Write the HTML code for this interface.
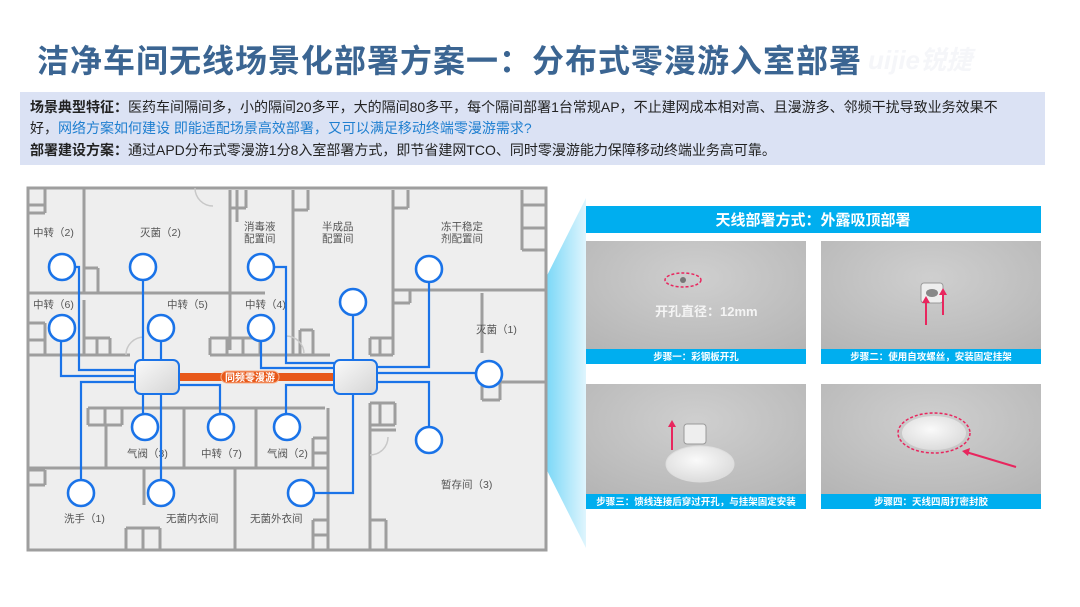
<!DOCTYPE html>
<html><head><meta charset="utf-8"><style>
html,body{margin:0;padding:0;background:#fff}
body{width:1080px;height:607px;position:relative;overflow:hidden;font-family:"Liberation Sans","Noto Sans CJK SC",sans-serif}
.t{position:absolute;left:37px;top:36px;font-size:32px;font-weight:bold;color:#3b6592;letter-spacing:1px;white-space:nowrap}
.box{position:absolute;left:20px;top:92px;width:1025px;height:73px;background:#dbe2f4}
.box p{margin:0;position:absolute;left:10px;font-size:14px;line-height:21px;color:#222;white-space:nowrap}
.bl{color:#1f7fd0}
</style></head><body>
<div class="t">洁净车间无线场景化部署方案一：分布式零漫游入室部署</div>
<div style="position:absolute;left:868px;top:40px;font-size:26px;font-weight:bold;color:#f5f6f9;font-style:italic">uijie锐捷</div>
<div class="box">
<p style="top:5px"><b>场景典型特征：</b>医药车间隔间多，小的隔间20多平，大的隔间80多平，每个隔间部署1台常规AP，不止建网成本相对高、且漫游多、邻频干扰导致业务效果不</p>
<p style="top:26px">好，<span class="bl">网络方案如何建设 即能适配场景高效部署，又可以满足移动终端零漫游需求?</span></p>
<p style="top:48px"><b>部署建设方案：</b>通过APD分布式零漫游1分8入室部署方式，即节省建网TCO、同时零漫游能力保障移动终端业务高可靠。</p>
</div>
<svg width="1080" height="607" style="position:absolute;left:0;top:0" font-family="Liberation Sans,Noto Sans CJK SC,sans-serif">
<defs>
<linearGradient id="cone" x1="0" x2="1" y1="0" y2="0"><stop offset="0" stop-color="#00b4f0"/><stop offset="1" stop-color="#dff5fd"/></linearGradient>
<linearGradient id="ap" x1="0" x2="1" y1="0" y2="1"><stop offset="0" stop-color="#fafafa"/><stop offset="1" stop-color="#d4d4d4"/></linearGradient>
<radialGradient id="ceil" cx="0.5" cy="0.3" r="0.8"><stop offset="0" stop-color="#cfcfcf"/><stop offset="1" stop-color="#b3b3b3"/></radialGradient>
<radialGradient id="dome" cx="0.45" cy="0.4" r="0.6"><stop offset="0" stop-color="#fafafa"/><stop offset="1" stop-color="#dcdcdc"/></radialGradient>
</defs>
<polygon points="498,373 586,198 586,548" fill="url(#cone)"/>
<rect x="28" y="188" width="518" height="362" fill="#eeeeee" stroke="#9e9e9e" stroke-width="3"/>
<g stroke="#9e9e9e" stroke-width="3" fill="none">
<line x1="84" y1="188" x2="84" y2="293"/><line x1="28" y1="293" x2="265" y2="293"/>
<line x1="28" y1="205" x2="45" y2="205"/><line x1="45" y1="188" x2="45" y2="213"/><line x1="28" y1="213" x2="45" y2="213"/>
<line x1="84" y1="268" x2="98" y2="268"/><line x1="98" y1="268" x2="98" y2="293"/>
<line x1="230" y1="190" x2="230" y2="350"/><line x1="237" y1="190" x2="237" y2="222"/>
<line x1="230" y1="208" x2="246" y2="208"/><line x1="246" y1="190" x2="246" y2="208"/>
<line x1="293" y1="190" x2="293" y2="355"/><line x1="293" y1="210" x2="308" y2="210"/><line x1="308" y1="190" x2="308" y2="210"/>
<line x1="393" y1="190" x2="393" y2="355"/><line x1="393" y1="208" x2="408" y2="208"/><line x1="408" y1="190" x2="408" y2="208"/>
<line x1="393" y1="290" x2="546" y2="290"/><line x1="393" y1="303" x2="410" y2="303"/><line x1="410" y1="290" x2="410" y2="303"/>
<line x1="522" y1="190" x2="522" y2="250"/><line x1="522" y1="205" x2="546" y2="205"/><line x1="522" y1="228" x2="546" y2="228"/><line x1="522" y1="250" x2="546" y2="250"/>
<line x1="482" y1="293" x2="482" y2="353"/>
<line x1="482" y1="382" x2="546" y2="382"/><line x1="482" y1="382" x2="482" y2="400"/><line x1="482" y1="400" x2="500" y2="400"/><line x1="500" y1="382" x2="500" y2="400"/>
<line x1="28" y1="355" x2="130" y2="355"/><line x1="28" y1="323" x2="45" y2="323"/><line x1="45" y1="323" x2="45" y2="355"/><line x1="28" y1="340" x2="45" y2="340"/>
<line x1="84" y1="300" x2="84" y2="355"/>
<line x1="84" y1="338" x2="110" y2="338"/><line x1="97" y1="338" x2="97" y2="355"/><line x1="110" y1="338" x2="110" y2="355"/>
<line x1="210" y1="355" x2="330" y2="355"/><line x1="210" y1="338" x2="260" y2="338"/><line x1="210" y1="338" x2="210" y2="355"/><line x1="227" y1="338" x2="227" y2="355"/><line x1="243" y1="338" x2="243" y2="355"/><line x1="260" y1="338" x2="260" y2="355"/>
<line x1="300" y1="330" x2="300" y2="355"/><line x1="300" y1="330" x2="313" y2="330"/><line x1="313" y1="330" x2="313" y2="355"/>
<line x1="370" y1="355" x2="393" y2="355"/><line x1="370" y1="338" x2="393" y2="338"/><line x1="370" y1="338" x2="370" y2="355"/><line x1="380" y1="338" x2="380" y2="355"/>
<line x1="88" y1="408" x2="325" y2="408"/><line x1="88" y1="408" x2="88" y2="425"/><line x1="88" y1="425" x2="122" y2="425"/><line x1="105" y1="408" x2="105" y2="425"/><line x1="122" y1="408" x2="122" y2="425"/>
<line x1="106" y1="425" x2="106" y2="468"/><line x1="184" y1="408" x2="184" y2="468"/><line x1="256" y1="408" x2="256" y2="468"/>
<line x1="328" y1="408" x2="328" y2="550"/><line x1="313" y1="438" x2="328" y2="438"/><line x1="313" y1="438" x2="313" y2="468"/><line x1="313" y1="453" x2="328" y2="453"/>
<line x1="28" y1="468" x2="328" y2="468"/><line x1="28" y1="470" x2="45" y2="470"/><line x1="45" y1="470" x2="45" y2="485"/><line x1="28" y1="485" x2="45" y2="485"/>
<line x1="144" y1="468" x2="144" y2="505"/><line x1="235" y1="468" x2="235" y2="550"/>
<line x1="126" y1="550" x2="126" y2="528"/><line x1="126" y1="528" x2="160" y2="528"/><line x1="143" y1="528" x2="143" y2="550"/><line x1="160" y1="528" x2="160" y2="550"/>
<line x1="313" y1="520" x2="328" y2="520"/><line x1="313" y1="520" x2="313" y2="550"/><line x1="313" y1="535" x2="328" y2="535"/>
<line x1="370" y1="403" x2="370" y2="550"/><line x1="370" y1="403" x2="395" y2="403"/><line x1="370" y1="425" x2="395" y2="425"/><line x1="380" y1="403" x2="380" y2="425"/><line x1="395" y1="403" x2="395" y2="425"/>
<line x1="370" y1="430" x2="396" y2="430"/><line x1="370" y1="520" x2="386" y2="520"/><line x1="386" y1="520" x2="386" y2="550"/>
</g>
<g stroke="#c8c8c8" stroke-width="1.5" fill="none">
<path d="M195,188 A18,18 0 0 0 213,206"/><path d="M126,355 A18,18 0 0 1 144,337"/><path d="M286,336 A18,18 0 0 1 304,354"/><path d="M370,455 A18,18 0 0 0 388,437"/>
</g>
<g fill="#555" font-size="10.5">
<text x="33" y="236">中转（2)</text><text x="140" y="236">灭菌（2)</text>
<text x="244" y="230">消毒液</text><text x="244" y="242">配置间</text>
<text x="322" y="230">半成品</text><text x="322" y="242">配置间</text>
<text x="441" y="230">冻干稳定</text><text x="441" y="242">剂配置间</text>
<text x="33" y="308">中转（6)</text><text x="167" y="308">中转（5)</text><text x="245" y="308">中转（4)</text>
<text x="476" y="333">灭菌（1)</text>
<text x="127" y="457">气阀（3)</text><text x="201" y="457">中转（7)</text><text x="267" y="457">气阀（2)</text>
<text x="441" y="488">暂存间（3)</text>
<text x="64" y="522">洗手（1)</text><text x="166" y="522">无菌内衣间</text><text x="250" y="522">无菌外衣间</text>
</g>
<g stroke="#1a73e8" stroke-width="2.2" fill="none">
<polyline points="74,267 79,267 79,370 135,370"/>
<polyline points="61,341 61,376 135,376"/>
<polyline points="143,280 143,360"/>
<polyline points="161,341 161,360"/>
<polyline points="81,480 81,382 135,382"/>
<polyline points="143,414 143,393"/>
<polyline points="161,480 161,393"/>
<polyline points="220,414 220,385 179,385"/>
<polyline points="274,267 286,267 286,363 334,363"/>
<polyline points="261,341 261,368 334,368"/>
<polyline points="353,315 353,360"/>
<polyline points="429,282 429,367 377,367"/>
<polyline points="476,373 377,373"/>
<polyline points="429,427 429,382 377,382"/>
<polyline points="286,414 286,385 334,385"/>
<polyline points="314,493 353,493 353,393"/>
</g>
<g fill="#fff" stroke="#1a73e8" stroke-width="2.6">
<circle cx="62" cy="267" r="13"/><circle cx="143" cy="267" r="13"/><circle cx="261" cy="267" r="13"/><circle cx="429" cy="269" r="13"/>
<circle cx="353" cy="302" r="13"/><circle cx="62" cy="328" r="13"/><circle cx="161" cy="328" r="13"/><circle cx="261" cy="328" r="13"/>
<circle cx="489" cy="374" r="13"/><circle cx="145" cy="427" r="13"/><circle cx="221" cy="427" r="13"/><circle cx="287" cy="427" r="13"/>
<circle cx="429" cy="440" r="13"/><circle cx="81" cy="493" r="13"/><circle cx="161" cy="493" r="13"/><circle cx="301" cy="493" r="13"/>
</g>
<rect x="178" y="373" width="157" height="8" fill="#e8591a"/>
<rect x="221" y="371" width="58" height="12" rx="6" fill="#e8591a" stroke="#f7b08a" stroke-width="1"/>
<text x="250" y="381" font-size="10" fill="#fff" font-weight="bold" text-anchor="middle">同频零漫游</text>
<rect x="135" y="360" width="44" height="34" rx="6" fill="url(#ap)" stroke="#1a73e8" stroke-width="2"/>
<rect x="334" y="360" width="43" height="34" rx="6" fill="url(#ap)" stroke="#1a73e8" stroke-width="2"/>
<rect x="586" y="206" width="455" height="27" fill="#00aeef"/>
<text x="813" y="225" font-size="15" font-weight="bold" fill="#fff" text-anchor="middle">天线部署方式：外露吸顶部署</text>
<rect x="586" y="241" width="220" height="123" fill="url(#ceil)"/>
<rect x="821" y="241" width="220" height="123" fill="url(#ceil)"/>
<rect x="586" y="384" width="220" height="125" fill="url(#ceil)"/>
<rect x="821" y="384" width="220" height="125" fill="url(#ceil)"/>
<g fill="#00aeef"><rect x="586" y="349" width="220" height="15"/><rect x="821" y="349" width="220" height="15"/><rect x="586" y="494" width="220" height="15"/><rect x="821" y="494" width="220" height="15"/></g>
<g fill="#fff" font-size="9.5" font-weight="bold" text-anchor="middle">
<text x="696" y="360">步骤一：彩钢板开孔</text><text x="931" y="360">步骤二：使用自攻螺丝，安装固定挂架</text>
<text x="696" y="505">步骤三：馈线连接后穿过开孔，与挂架固定安装</text><text x="931" y="505">步骤四：天线四周打密封胶</text>
</g>
<ellipse cx="683" cy="280" rx="18" ry="7" fill="none" stroke="#e8265e" stroke-width="1.5" stroke-dasharray="3,2"/>
<circle cx="683" cy="280" r="3" fill="#777"/>
<text x="655" y="316" font-size="13" font-weight="bold" fill="#f4f4f4">开孔直径：12mm</text>
<rect x="921" y="283" width="22" height="20" rx="3" fill="#eee" stroke="#999"/>
<ellipse cx="932" cy="293" rx="6" ry="4" fill="#888"/>
<g stroke="#e8265e" stroke-width="2"><line x1="926" y1="325" x2="926" y2="301"/><line x1="943" y1="315" x2="943" y2="293"/><line x1="672" y1="450" x2="672" y2="425"/><line x1="1016" y1="467" x2="966" y2="452"/></g>
<g fill="#e8265e"><polygon points="922,303 926,296 930,303"/><polygon points="939,295 943,288 947,295"/><polygon points="668,427 672,420 676,427"/><polygon points="962,451 970,448 968,456"/></g>
<rect x="684" y="424" width="22" height="20" rx="3" fill="#eee" stroke="#999"/>
<ellipse cx="700" cy="464" rx="34" ry="18" fill="url(#dome)" stroke="#ddd"/>
<ellipse cx="934" cy="433" rx="32" ry="17" fill="url(#dome)"/>
<ellipse cx="934" cy="433" rx="36" ry="20" fill="none" stroke="#e8265e" stroke-width="1.5" stroke-dasharray="3,2"/>
</svg>
</body></html>
